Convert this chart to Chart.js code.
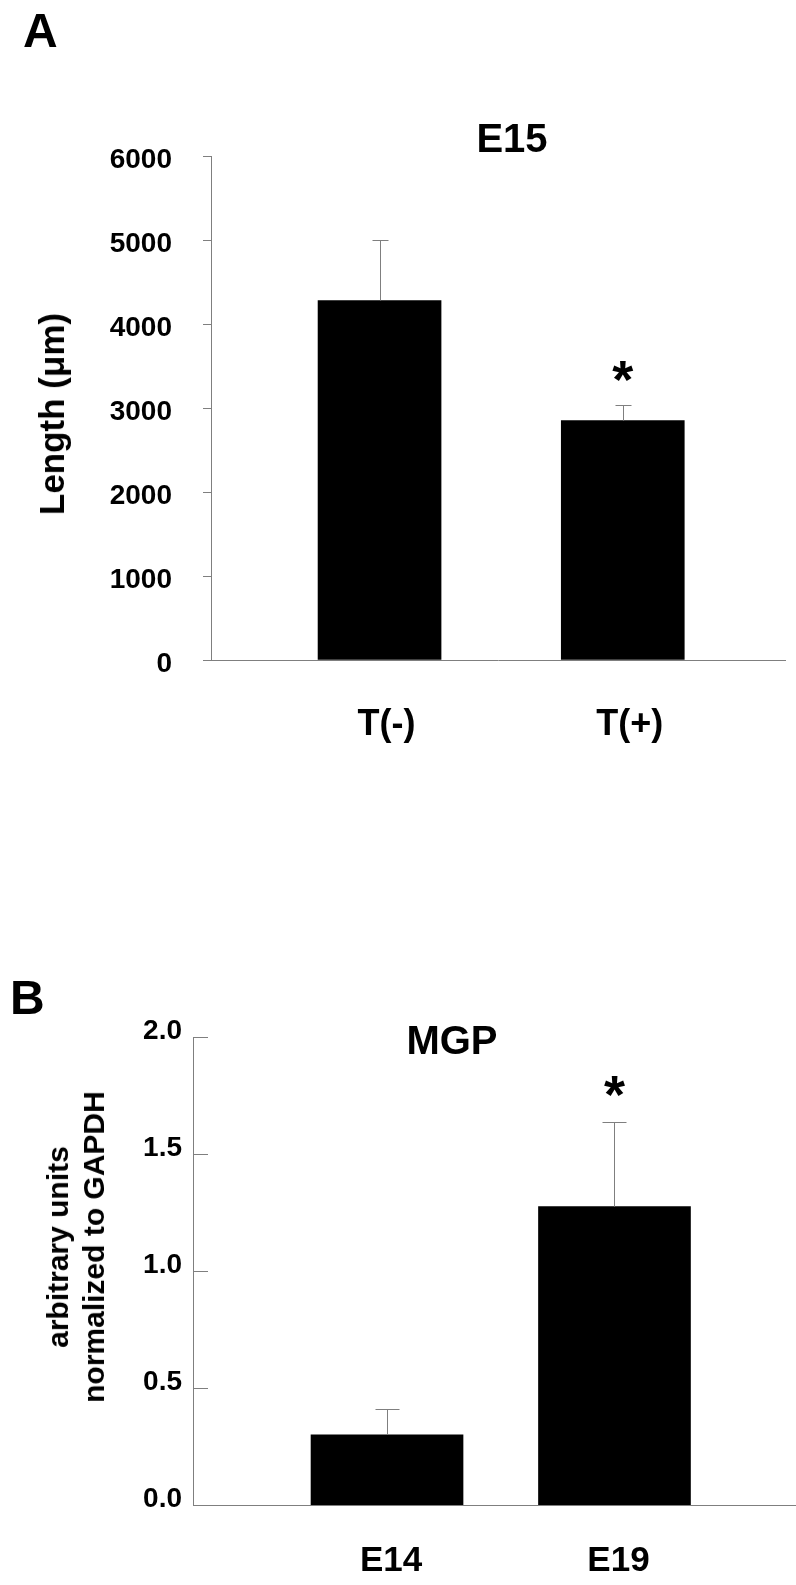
<!DOCTYPE html>
<html>
<head>
<meta charset="utf-8">
<script src="https://cdn.jsdelivr.net/npm/chart.js@4.4.1/dist/chart.umd.min.js"></script>
<style>
  body { margin: 0; background: #fff; width: 796px; height: 1585px; position: relative; overflow: hidden;
         font-family: "Liberation Sans", Arial, sans-serif; font-weight: bold; }
  canvas { position: absolute; left: 0; }
  .lbl { position: absolute; line-height: 1; white-space: nowrap; color: #000; }
  .ytitle { position: absolute; white-space: nowrap; color: #000; text-align: center;
            transform: translate(-50%, -50%) rotate(-90deg); }
</style>
</head>
<body>
<canvas id="chartA" width="796" height="790" style="top:0"></canvas>
<canvas id="chartB" width="796" height="625" style="top:960px"></canvas>
<div class="lbl" style="left:23px; top:7px; font-size:48px;">A</div>
<div class="lbl" style="left:412px; width:200px; text-align:center; top:118px; font-size:40px;">E15</div>
<div class="ytitle" style="left:52px; top:414px; font-size:35px; line-height:42px;">Length (μm)</div>
<div class="lbl" style="left:10px; top:974px; font-size:48px;">B</div>
<div class="lbl" style="left:352px; width:200px; text-align:center; top:1020px; font-size:40px;">MGP</div>
<div class="ytitle" style="left:76px; top:1247px; font-size:30px; line-height:36px;">arbitrary units<br>normalized to GAPDH</div>
<script>
const FONT = '"Liberation Sans", Arial, sans-serif';
const AXIS_GRAY = '#7f7f7f';

// A: length at E15
const lengthGroups = ['T(-)', 'T(+)'];
const lengthMean = [4280, 2850];
const lengthSD = [720, 180];
const lengthSig = [false, true];

// B: MGP expression
const mgpGroups = ['E14', 'E19'];
const mgpMean = [0.30, 1.275];
const mgpSD = [0.11, 0.36];
const mgpSig = [false, true];

Chart.defaults.font.family = FONT;
Chart.defaults.font.weight = 'bold';
Chart.defaults.color = '#000';

// error bars (upper half only) plus significance star
function errorBarPlugin(sd, sig, capHalf, starGap) {
  return {
    id: 'errorBars',
    afterDatasetsDraw(chart) {
      const ctx = chart.ctx;
      const yScale = chart.scales.y;
      const meta = chart.getDatasetMeta(0);
      const points = chart.data.datasets[0].data;
      ctx.save();
      ctx.strokeStyle = AXIS_GRAY;
      ctx.lineWidth = 1;
      meta.data.forEach((bar, i) => {
        const x = Math.round(bar.x) + 0.5;
        const top = Math.round(yScale.getPixelForValue(points[i].y + sd[i])) + 0.5;
        ctx.beginPath();
        ctx.moveTo(x, bar.y);
        ctx.lineTo(x, top);
        ctx.moveTo(x - capHalf, top);
        ctx.lineTo(x + capHalf, top);
        ctx.stroke();
        if (sig[i]) {
          ctx.font = 'bold 54px ' + FONT;
          ctx.fillStyle = '#000';
          ctx.textAlign = 'center';
          ctx.textBaseline = 'alphabetic';
          const m = ctx.measureText('*');
          const cy = top - starGap;
          ctx.fillText('*', bar.x, cy + (m.actualBoundingBoxAscent - m.actualBoundingBoxDescent) / 2);
        }
      });
      ctx.restore();
    }
  };
}

// tick marks pointing into the plot (panel B)
const innerTicks = {
  id: 'innerTicks',
  afterDraw(chart, args, opts) {
    const y = chart.scales.y;
    const ctx = chart.ctx;
    ctx.save();
    ctx.strokeStyle = AXIS_GRAY;
    ctx.lineWidth = 1;
    ctx.beginPath();
    y.ticks.forEach((t) => {
      if (t.value === 0) return;
      const py = Math.round(y.getPixelForValue(t.value)) + 0.5;
      ctx.moveTo(y.right, py);
      ctx.lineTo(y.right + opts.length, py);
    });
    ctx.stroke();
    ctx.restore();
  }
};

new Chart(document.getElementById('chartA'), {
  type: 'bar',
  data: {
    datasets: [{
      data: lengthGroups.map((g, i) => ({ x: i, y: lengthMean[i] })),
      backgroundColor: '#000',
      barThickness: 123,
    }],
  },
  options: {
    responsive: false,
    animation: false,
    layout: { padding: { top: 156, right: 11, bottom: 0, left: 0 } },
    plugins: { legend: { display: false }, tooltip: { enabled: false } },
    scales: {
      x: {
        type: 'linear', min: -0.693, max: 1.667, offset: false,
        afterBuildTicks: (s) => { s.ticks = lengthGroups.map((g, i) => ({ value: i })); },
        afterFit: (s) => { s.height = 130; },
        grid: { display: false, drawTicks: false, offset: false },
        border: { color: AXIS_GRAY, width: 1 },
        ticks: {
          callback: (v) => lengthGroups[v], padding: 43, labelOffset: 7,
          font: { size: 36 }, autoSkip: false, maxRotation: 0,
        },
      },
      y: {
        min: 0, max: 6000,
        afterFit: (s) => { s.width = 211; },
        ticks: { stepSize: 1000, padding: 31, labelOffset: 4, font: { size: 28 }, callback: (v) => String(v) },
        grid: { drawOnChartArea: false, tickLength: 8, color: AXIS_GRAY },
        border: { color: AXIS_GRAY, width: 1 },
      },
    },
  },
  plugins: [errorBarPlugin(lengthSD, lengthSig, 8, 34)],
});

new Chart(document.getElementById('chartB'), {
  type: 'bar',
  data: {
    datasets: [{
      data: mgpGroups.map((g, i) => ({ x: i, y: mgpMean[i] })),
      backgroundColor: '#000',
      barThickness: 152,
    }],
  },
  options: {
    responsive: false,
    animation: false,
    layout: { padding: { top: 77, right: 0, bottom: 0, left: 0 } },
    plugins: { legend: { display: false }, tooltip: { enabled: false }, innerTicks: { length: 15 } },
    scales: {
      x: {
        type: 'linear', min: -0.853, max: 1.798, offset: false,
        afterBuildTicks: (s) => { s.ticks = mgpGroups.map((g, i) => ({ value: i })); },
        afterFit: (s) => { s.height = 80; },
        grid: { display: false, drawTicks: false, offset: false },
        border: { color: AXIS_GRAY, width: 1 },
        ticks: {
          callback: (v) => mgpGroups[v], padding: 35, labelOffset: 4,
          font: { size: 35 }, autoSkip: false, maxRotation: 0,
        },
      },
      y: {
        min: 0, max: 2,
        afterFit: (s) => { s.width = 193; },
        ticks: { stepSize: 0.5, padding: 11, labelOffset: -6, font: { size: 28 }, callback: (v) => v.toFixed(1) },
        grid: { display: false, drawTicks: false },
        border: { color: AXIS_GRAY, width: 1 },
      },
    },
  },
  plugins: [errorBarPlugin(mgpSD, mgpSig, 12, 36), innerTicks],
});
</script>
</body>
</html>
